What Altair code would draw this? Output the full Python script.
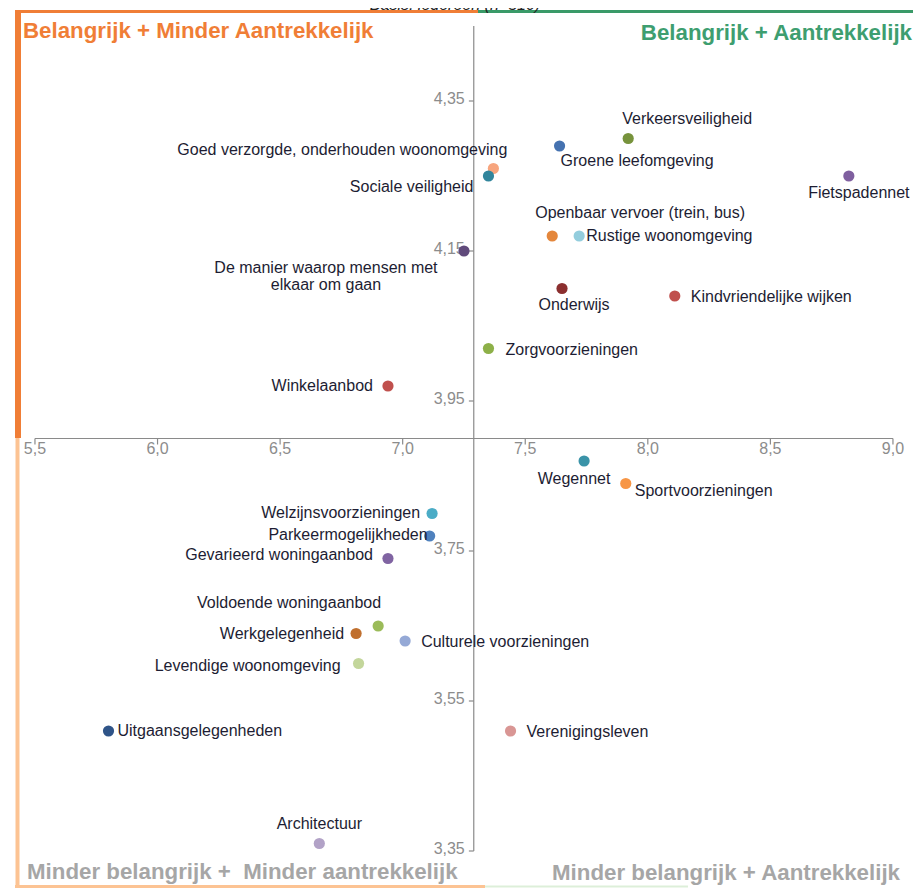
import altair as alt
import pandas as pd

# ---------------- data ----------------
names = [
    "Verkeersveiligheid", "Groene leefomgeving", "Fietspadennet",
    "Goed verzorgde, onderhouden woonomgeving", "Sociale veiligheid",
    "Openbaar vervoer (trein, bus)", "Rustige woonomgeving",
    "De manier waarop mensen met\nelkaar om gaan", "Onderwijs",
    "Kindvriendelijke wijken", "Zorgvoorzieningen", "Winkelaanbod",
    "Wegennet", "Sportvoorzieningen", "Welzijnsvoorzieningen",
    "Parkeermogelijkheden", "Gevarieerd woningaanbod",
    "Voldoende woningaanbod", "Werkgelegenheid", "Culturele voorzieningen",
    "Levendige woonomgeving", "Uitgaansgelegenheden", "Verenigingsleven",
    "Architectuur",
]
aantrekkelijkheid = [7.92, 7.64, 8.82, 7.37, 7.35, 7.61, 7.72, 7.25, 7.65,
                     8.11, 7.35, 6.94, 7.74, 7.91, 7.12, 7.11, 6.94, 6.90,
                     6.81, 7.01, 6.82, 5.80, 7.44, 6.66]
belang = [4.30, 4.29, 4.25, 4.26, 4.25, 4.17, 4.17, 4.15, 4.10, 4.09, 4.02,
          3.97, 3.87, 3.84, 3.80, 3.77, 3.74, 3.65, 3.64, 3.63, 3.60, 3.51,
          3.51, 3.36]
colors = ["#77933C", "#4572B0", "#7F5F9F", "#F7A57E", "#31859C", "#E4873C",
          "#93CDDD", "#604A7B", "#8B2F2F", "#C0504D", "#8DB048", "#C0504D",
          "#3A93A8", "#F79646", "#4BACC6", "#4F81BD", "#8064A2", "#9BBB59",
          "#C0702F", "#95A9D6", "#C3D69B", "#2F5488", "#D99694", "#B2A2C7"]

x_ticks = [5.5, 6.0, 6.5, 7.0, 7.5, 8.0, 8.5, 9.0]
x_tick_labels = ["5,5", "6,0", "6,5", "7,0", "7,5", "8,0", "8,5", "9,0"]
y_ticks = [4.35, 4.15, 3.95, 3.75, 3.55, 3.35]
y_tick_labels = ["4,35", "4,15", "3,95", "3,75", "3,55", "3,35"]
x_cross = 7.29   # gemiddelde aantrekkelijkheid
y_cross = 3.90   # gemiddeld belang
y_axis_top = 4.45

# ---------------- layout ----------------
W, H = 905, 880
X_DOMAIN = [5.39, 5.39 + W / 245.14]
Y_DOMAIN = [4.474 - H / 750.0, 4.474]
xs = alt.Scale(domain=X_DOMAIN, nice=False, zero=False)
ys = alt.Scale(domain=Y_DOMAIN, nice=False, zero=False)
FONT = "Liberation Sans"
AXIS_COLOR = "#8a8a8a"
TICK_LABEL_COLOR = "#8c8c8c"
TEXT_COLOR = "#1d1d33"

# label placement: (align, dx, dy)
label_layout = {
    "Verkeersveiligheid": ("left", -6, -20),
    "Groene leefomgeving": ("left", 1, 15),
    "Fietspadennet": ("center", 10, 17),
    "Goed verzorgde, onderhouden woonomgeving": ("right", 14, -19),
    "Sociale veiligheid": ("right", -15, 11),
    "Openbaar vervoer (trein, bus)": ("left", -17, -23),
    "Rustige woonomgeving": ("left", 7, 0),
    "De manier waarop mensen met\nelkaar om gaan": ("center", -138, 17),
    "Onderwijs": ("center", 12, 16),
    "Kindvriendelijke wijken": ("left", 16, 1),
    "Zorgvoorzieningen": ("left", 17, 1),
    "Winkelaanbod": ("right", -15, 0),
    "Wegennet": ("center", -10, 18),
    "Sportvoorzieningen": ("left", 9, 7),
    "Welzijnsvoorzieningen": ("right", -12, -1),
    "Parkeermogelijkheden": ("right", -2, -1),
    "Gevarieerd woningaanbod": ("right", -15, -4),
    "Voldoende woningaanbod": ("right", 3, -23),
    "Werkgelegenheid": ("right", -12, 0),
    "Culturele voorzieningen": ("left", 16, 1),
    "Levendige woonomgeving": ("right", -18, 2),
    "Uitgaansgelegenheden": ("left", 9, 0),
    "Verenigingsleven": ("left", 16, 1),
    "Architectuur": ("center", 0, -20),
}

df = pd.DataFrame({"naam": names, "x": aantrekkelijkheid, "y": belang, "kleur": colors})
xt = pd.DataFrame({"v": x_ticks, "lab": x_tick_labels})
yt = pd.DataFrame({"v": y_ticks, "lab": y_tick_labels})
one = pd.DataFrame({"d": [0]})

X = lambda f: alt.X(f, type="quantitative", scale=xs, axis=None)
Y = lambda f: alt.Y(f, type="quantitative", scale=ys, axis=None)

layers = []

# --- quadrant borders (decoration) ---
def hline(x0, x1, yv, color, w):
    return alt.Chart(one).mark_rule(color=color, strokeWidth=w).encode(
        x=alt.value(x0), x2=alt.value(x1), y=alt.value(yv))

def vline(xv, y0, y1, color, w):
    return alt.Chart(one).mark_rule(color=color, strokeWidth=w).encode(
        x=alt.value(xv), y=alt.value(y0), y2=alt.value(y1))

layers += [
    hline(7, 470, 3.5, "#F07E36", 3),
    hline(470, 905, 3.5, "#3A9A68", 3),
    vline(10, 2, 430, "#F07E36", 6),
    vline(9.5, 430, 879, "#FCC393", 4),
    hline(7, 477, 878.5, "#FCC393", 3),
    hline(477, 680, 878.5, "#DDEFD9", 2),
]

# --- axes drawn at the crossing point ---
layers.append(alt.Chart(one).mark_rule(color=AXIS_COLOR, strokeWidth=1.2).encode(
    x=alt.X("a:Q", scale=xs, axis=None), x2=alt.X2("b:Q"),
    y=alt.Y("c:Q", scale=ys, axis=None)
).transform_calculate(a=str(x_ticks[0]), b=str(x_ticks[-1]), c=str(y_cross)))

layers.append(alt.Chart(one).mark_rule(color=AXIS_COLOR, strokeWidth=1.2).encode(
    x=alt.X("c:Q", scale=xs, axis=None),
    y=alt.Y("a:Q", scale=ys, axis=None), y2=alt.Y2("b:Q")
).transform_calculate(a=str(y_axis_top), b=str(y_ticks[-1]), c=str(x_cross)))

# ticks
layers.append(alt.Chart(xt).mark_rule(color=AXIS_COLOR, strokeWidth=1.2).encode(
    x=X("v"), y=Y("t0"), y2=alt.Y2("t1")
).transform_calculate(t0=str(y_cross), t1=str(y_cross - 0.008)))
layers.append(alt.Chart(yt).mark_rule(color=AXIS_COLOR, strokeWidth=1.2).encode(
    y=Y("v"), x=X("t0"), x2=alt.X2("t1")
).transform_calculate(t0=str(x_cross), t1=str(x_cross - 0.02)))

# tick labels
layers.append(alt.Chart(xt).mark_text(
    font=FONT, fontSize=16, color=TICK_LABEL_COLOR, baseline="middle", dy=10
).encode(x=X("v"), y=Y("c"), text="lab:N").transform_calculate(c=str(y_cross)))
layers.append(alt.Chart(yt).mark_text(
    font=FONT, fontSize=16, color=TICK_LABEL_COLOR, baseline="middle", align="right", dx=-9, dy=-2
).encode(x=X("c"), y=Y("v"), text="lab:N").transform_calculate(c=str(x_cross)))

# --- points ---
layers.append(alt.Chart(df).mark_circle(size=125, opacity=1).encode(
    x=X("x"), y=Y("y"), color=alt.Color("kleur:N", scale=None)))

# --- point labels ---
for n in names:
    al, dx, dy = label_layout[n]
    layers.append(alt.Chart(df).transform_filter(alt.datum.naam == n).mark_text(
        font=FONT, fontSize=16, color=TEXT_COLOR, align=al, baseline="middle",
        dx=dx, dy=dy, lineBreak="\n", lineHeight=17
    ).encode(x=X("x"), y=Y("y"), text="naam:N"))

# --- quadrant titles ---
def qtext(txt, xv, yv, al, color):
    return alt.Chart(one).mark_text(
        text=txt, font=FONT, fontSize=22.3, fontWeight="bold", color=color,
        align=al, baseline="middle"
    ).encode(x=alt.value(xv), y=alt.value(yv))

layers += [
    qtext("Belangrijk + Minder Aantrekkelijk", 15, 23, "left", "#F07E36"),
    qtext("Belangrijk + Aantrekkelijk", 904, 25, "right", "#3E9E70"),
    qtext("Minder belangrijk +\u00a0 Minder aantrekkelijk", 19, 864, "left", "#A6A6A6"),
    qtext("Minder belangrijk + Aantrekkelijk", 892, 865, "right", "#A6A6A6"),
]

# base note (cut off at the top in the original)
layers.append(alt.Chart(one).mark_text(
    text="Basis: iedereen (n=510)", font=FONT, fontSize=16, fontStyle="italic",
    color="#222222", align="center", baseline="middle"
).encode(x=alt.value(447), y=alt.value(-3)))

chart = alt.layer(*layers).properties(
    width=W, height=H, padding=0, autosize=alt.AutoSizeParams(type="none")
).configure_view(stroke=None)

chart.save("out.html", embed_options={"renderer": "svg", "actions": False})
